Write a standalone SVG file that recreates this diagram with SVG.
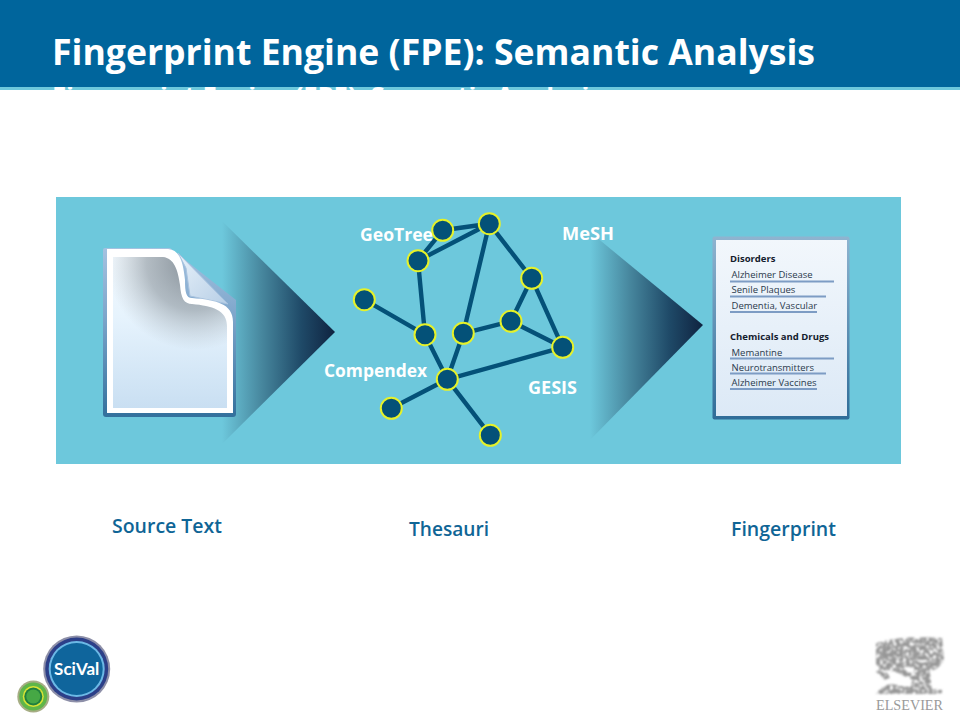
<svg xmlns="http://www.w3.org/2000/svg" width="960" height="720" viewBox="0 0 960 720">
<style>
.t{font-family:"Open Sans","Noto Sans",sans-serif;font-weight:700}
.lab{font-size:17px;fill:#fff}
.cap{font-size:19px;fill:#0f6596;font-weight:600}
.fp{font-family:"Open Sans","Noto Sans",sans-serif;font-size:9.5px;fill:#2a3a4c}
.fph{font-family:"Open Sans","Noto Sans",sans-serif;font-size:9.5px;font-weight:700;fill:#14202e}
.ul{stroke:#7d9cc4;stroke-width:2}
.edge{stroke:#045178;stroke-width:4.4;fill:none}
.node{fill:#045178;stroke:#e6f229;stroke-width:2}
</style>
<defs>
<linearGradient id="ar" x1="0" x2="1" y1="0" y2="0"><stop offset="0" stop-color="#6dc8dc"/><stop offset=".35" stop-color="#47879e"/><stop offset=".7" stop-color="#1f4a68"/><stop offset="1" stop-color="#0f2340"/></linearGradient>
<linearGradient id="pg" x1="0" y1="0" x2="0" y2="1"><stop offset="0" stop-color="#f2f9fe"/><stop offset=".4" stop-color="#e6f3fd"/><stop offset="1" stop-color="#c9dff2"/></linearGradient>
<radialGradient id="sh" gradientUnits="userSpaceOnUse" cx="195" cy="262" r="88"><stop offset="0" stop-color="#7d8790" stop-opacity=".95"/><stop offset=".55" stop-color="#8d979f" stop-opacity=".62"/><stop offset="1" stop-color="#a8b2ba" stop-opacity="0"/></radialGradient>
<linearGradient id="fl" x1="0" y1="0" x2="1" y2="1"><stop offset="0" stop-color="#e8f1fa"/><stop offset="1" stop-color="#b7cfe6"/></linearGradient>
<linearGradient id="fr" x1="0" y1="0" x2="0" y2="1"><stop offset="0" stop-color="#8fb4d0"/><stop offset="1" stop-color="#2f6c98"/></linearGradient>
<linearGradient id="fb" x1="0" y1="0" x2="0" y2="1"><stop offset="0" stop-color="#f2f7fc"/><stop offset="1" stop-color="#dce9f6"/></linearGradient>
<linearGradient id="dk" x1="0" y1="0" x2="0" y2="1"><stop offset="0" stop-color="#a4c2e0"/><stop offset=".4" stop-color="#7ea6cb"/><stop offset="1" stop-color="#33709c"/></linearGradient>
<filter id="bl" x="-10%" y="-10%" width="120%" height="120%">
<feTurbulence type="fractalNoise" baseFrequency=".3" numOctaves="2" seed="4" result="n"/>
<feColorMatrix in="n" type="matrix" values="0 0 0 0 0 0 0 0 0 0 0 0 0 0 0 0 0 0 -5 3.4" result="m"/>
<feComposite in="SourceGraphic" in2="m" operator="in"/>
<feGaussianBlur stdDeviation=".8"/>
</filter>
<clipPath id="gh"><rect x="0" y="87" width="960" height="3"/></clipPath>
</defs>
<rect width="960" height="720" fill="#fff"/>
<g id="header">
<rect width="960" height="87" fill="#00659c"/>
<rect y="87" width="960" height="3" fill="#6dc8dc"/>
<text class="t" x="52" y="105" font-size="25" fill="#fff" clip-path="url(#gh)" textLength="550" lengthAdjust="spacingAndGlyphs">Fingerprint Engine (FPE): Semantic Analysis</text>
<text class="t" x="52" y="65" font-size="35" fill="#fff" textLength="763" lengthAdjust="spacingAndGlyphs">Fingerprint Engine (FPE): Semantic Analysis</text>
</g>
<rect id="panel" x="56" y="197" width="845" height="267" fill="#6dc8dc"/>
<polygon id="arrow-left" points="222,221 335,332 222,444" fill="url(#ar)"/>
<polygon id="arrow-right" points="590,232 703,325 590,440" fill="url(#ar)"/>
<g id="source-doc">
<path d="M103 250q0-2 2-2H170L236 300V414q0 3-3 3H106q-3 0-3-3Z" fill="url(#dk)"/>
<path d="M178 253L228 304 190 296 186 268Z" fill="url(#fl)" stroke="#a9c3df" stroke-width="1"/>
<path d="M107 249H168C180 250 183 262 185 280C185 292 186 298 192 298C215 300 233 303 233 322V413H107Z" fill="#fff"/>
<path id="page" d="M113 257H163C174 258 178 270 180 285C181 298 184 304 192 304C212 306 227 310 227 326V408H113Z" fill="url(#pg)"/>
<path d="M113 257H163C174 258 178 270 180 285C181 298 184 304 192 304C212 306 227 310 227 326V408H113Z" fill="url(#sh)"/>
</g>
<g id="connectors">
<path class="edge" d="M442.7 230.3L489.3 223.7M442.7 230.3L418 260.7M418 260.7L489.3 223.7M418 260.7L425 334.7M489.3 223.7L463.3 333.3M489.3 223.7L531.7 278.3M531.7 278.3L511 321.3M531.7 278.3L562.7 347.3M511 321.3L562.7 347.3M463.3 333.3L511 321.3M463.3 333.3L447.3 379.3M425 334.7L447.3 379.3M364.3 299.7L425 334.7M447.3 379.3L562.7 347.3M447.3 379.3L391.3 408.3M447.3 379.3L490.3 435.3"/>
</g>
<g id="n1"><circle class="node" cx="442.7" cy="230.3" r="10.5"/></g>
<g id="n2"><circle class="node" cx="489.3" cy="223.7" r="10.5"/></g>
<g id="n3"><circle class="node" cx="418" cy="260.7" r="10.5"/></g>
<g id="n4"><circle class="node" cx="531.7" cy="278.3" r="10.5"/></g>
<g id="n5"><circle class="node" cx="364.3" cy="299.7" r="10.5"/></g>
<g id="n6"><circle class="node" cx="425" cy="334.7" r="10.5"/></g>
<g id="n7"><circle class="node" cx="463.3" cy="333.3" r="10.5"/></g>
<g id="n8"><circle class="node" cx="511" cy="321.3" r="10.5"/></g>
<g id="n9"><circle class="node" cx="562.7" cy="347.3" r="10.5"/></g>
<g id="n10"><circle class="node" cx="447.3" cy="379.3" r="10.5"/></g>
<g id="n11"><circle class="node" cx="391.3" cy="408.3" r="10.5"/></g>
<g id="n12"><circle class="node" cx="490.3" cy="435.3" r="10.5"/></g>
<g id="labels">
<text class="t lab" x="360" y="241" textLength="73" lengthAdjust="spacingAndGlyphs">GeoTree</text>
<text class="t lab" x="562" y="240" textLength="52" lengthAdjust="spacingAndGlyphs">MeSH</text>
<text class="t lab" x="324" y="377" textLength="103" lengthAdjust="spacingAndGlyphs">Compendex</text>
<text class="t lab" x="528" y="394" textLength="49" lengthAdjust="spacingAndGlyphs">GESIS</text>
<text class="t cap" x="112" y="533" textLength="110" lengthAdjust="spacingAndGlyphs">Source Text</text>
<text class="t cap" x="409" y="536" textLength="80" lengthAdjust="spacingAndGlyphs">Thesauri</text>
<text class="t cap" x="731" y="536" textLength="105" lengthAdjust="spacingAndGlyphs">Fingerprint</text>
</g>
<g id="fingerprint-doc">
<rect x="712.5" y="236.5" width="137" height="183" rx="2" fill="url(#fr)"/>
<rect x="716" y="240" width="131" height="176" fill="url(#fb)"/>
<path class="ul" d="M730 281.5H834M730 296.5H826M730 312H817M730 358.5H834M730 373.5H826M730 389H817"/>
<text class="fph" x="730" y="262">Disorders</text>
<text class="fp" x="731.5" y="278">Alzheimer Disease</text>
<text class="fp" x="731.5" y="293">Senile Plaques</text>
<text class="fp" x="731.5" y="308.5">Dementia, Vascular</text>
<text class="fph" x="730" y="339.5">Chemicals and Drugs</text>
<text class="fp" x="731.5" y="355.5">Memantine</text>
<text class="fp" x="731.5" y="370.5">Neurotransmitters</text>
<text class="fp" x="731.5" y="386">Alzheimer Vaccines</text>
</g>
<g id="scival-logo">
<circle cx="76.7" cy="669" r="33.5" fill="#8d8fa8"/>
<circle cx="76.7" cy="669" r="31.5" fill="#2c3f88"/>
<circle cx="76.7" cy="669" r="28" fill="#6cb9e6"/>
<circle cx="76.7" cy="669" r="26" fill="#0f659c"/>
<text x="76.7" y="675" font-family="Lato,sans-serif" font-weight="700" font-size="17" fill="#fff" text-anchor="middle">SciVal</text>
<circle cx="33.3" cy="696.5" r="16" fill="#a6ad84"/>
<circle cx="33.3" cy="696.5" r="14" fill="#5fb648"/>
<circle cx="33.3" cy="696.5" r="10.5" fill="#d8e335"/>
<circle cx="33.3" cy="696.5" r="9" fill="#1f7f3f"/>
<circle cx="33.3" cy="696.5" r="7" fill="#46a845"/>
</g>
<g id="elsevier-logo">
<g filter="url(#bl)" fill="#969696">
<path d="M876 643Q900 635 942 638L944 660Q936 674 925 670L920 667L905 668Q885 676 876 664Z"/>
<path d="M915 664h14l3 28h-22Z"/>
<path d="M895 665l20 10-2 5-22-10ZM880 668q8 4 10 10l-6 2q-4-6-8-8Z"/>
<path d="M876 694q10-14 24-8l42 4v4Z"/>
</g>
<text x="909.5" y="710" font-family="Liberation Serif,serif" font-size="14" fill="#9a9a9a" text-anchor="middle" textLength="67" lengthAdjust="spacingAndGlyphs">ELSEVIER</text>
</g>
</svg>
